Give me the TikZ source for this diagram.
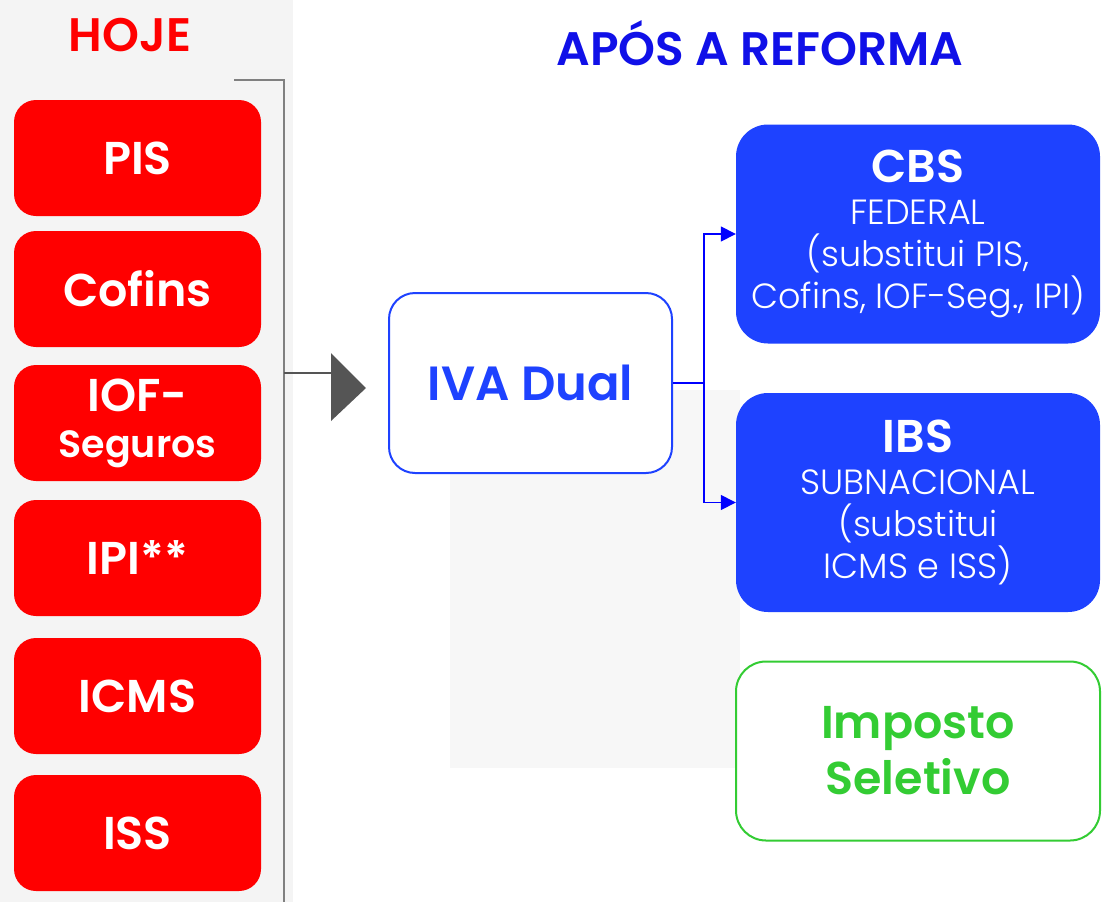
\documentclass[tikz,border=0pt]{standalone}
\usepackage{fontspec}
\setmainfont{Poppins}[BoldFont={Poppins SemiBold}]
\newfontfamily\thinfont{Poppins Light}
\usetikzlibrary{arrows.meta}
\definecolor{taxred}{RGB}{255,0,0}
\definecolor{ivablue}{RGB}{30,66,255}
\definecolor{titleblue}{RGB}{16,16,232}
\definecolor{linkblue}{RGB}{0,0,255}
\definecolor{selgreen}{RGB}{51,204,51}
\definecolor{panelgray}{RGB}{244,244,244}
\definecolor{shadegray}{RGB}{247,247,247}
\definecolor{bracketgray}{RGB}{128,128,128}
\definecolor{pointergray}{RGB}{85,85,85}
\newcommand{\boxhead}[1]{{\normalfont\bfseries\fontsize{46}{50}\selectfont #1}}

\begin{document}
\begin{tikzpicture}[x=1pt, y=-1pt,
    oldtax/.style={fill=taxred, rounded corners=22pt, minimum width=247pt,
        minimum height=116pt, inner sep=0pt, text=white, align=center,
        font=\fontsize{46}{50}\selectfont\bfseries},
    newtax/.style={fill=ivablue, rounded corners=32pt, minimum width=364pt,
        minimum height=219pt, inner sep=0pt, text=white, align=center,
        font=\thinfont\fontsize{35}{42}\selectfont},
    link/.style={draw=linkblue, line width=1.5pt}]
  \useasboundingbox (0,0) rectangle (1102,902);
  \fill[white] (0,0) rectangle (1102,902);
  \fill[panelgray] (0,0) rectangle (293,902);
  \fill[shadegray] (450,390) rectangle (740,768);

  \node[text=taxred, font=\fontsize{47}{50}\selectfont\bfseries] (hoje) at (130,35) {HOJE};
  \node[text=titleblue, font=\fontsize{47}{50}\selectfont\bfseries] (apos) at (760,43) {APÓS A REFORMA};

  \node[oldtax] (pis) at (137.5,158) {PIS};
  \node[oldtax] (cofins) at (137.5,289) {Cofins};
  \node[oldtax] (iof) at (137.5,423) {IOF-\\[-4pt]{\fontsize{38}{44}\selectfont Seguros}};
  \node[oldtax] (ipi) at (137.5,558) {IPI**};
  \node[oldtax] (icms) at (137.5,696) {ICMS};
  \node[oldtax] (iss) at (137.5,833) {ISS};

  \coordinate (brtop) at (234,80);
  \coordinate (brcorner) at (284,80);
  \coordinate (brbot) at (284,902);
  \draw[bracketgray, line width=1.5pt] (brtop) -- (brcorner) -- (brbot);

  \coordinate (ptrstart) at (284,373);
  \coordinate (ptrtip) at (331,373);
  \draw[pointergray, line width=2pt] (ptrstart) -- (ptrtip);
  \fill[pointergray] (331,353) -- (366,388) -- (331,421) -- cycle;

  \node[draw=ivablue, line width=2pt, fill=white, rounded corners=26pt,
    minimum width=283pt, minimum height=180pt, text=ivablue,
    font=\fontsize{48}{54}\selectfont\bfseries] (iva) at (530.5,383) {IVA Dual};

  \node[newtax] (cbs) at (918,234) {\boxhead{CBS}\\FEDERAL\\(substitui PIS,\\Cofins, IOF-Seg., IPI)};
  \node[newtax] (ibs) at (918,502.5) {\boxhead{IBS}\\SUBNACIONAL\\(substitui\\ICMS e ISS)};
  \node[draw=selgreen, line width=2pt, fill=white, rounded corners=30pt,
    minimum width=364pt, minimum height=179pt, text=selgreen, align=center,
    font=\fontsize{46}{56}\selectfont\bfseries] (seletivo) at (918,751) {Imposto\\Seletivo};

  \draw[link] (iva.east) -- ++(31,0) coordinate (split);
  \draw[link, -{Triangle[length=15pt, width=15pt]}] (split) |- (cbs.west);
  \draw[link, -{Triangle[length=15pt, width=15pt]}] (split) |- (ibs.west);
\end{tikzpicture}
\end{document}
